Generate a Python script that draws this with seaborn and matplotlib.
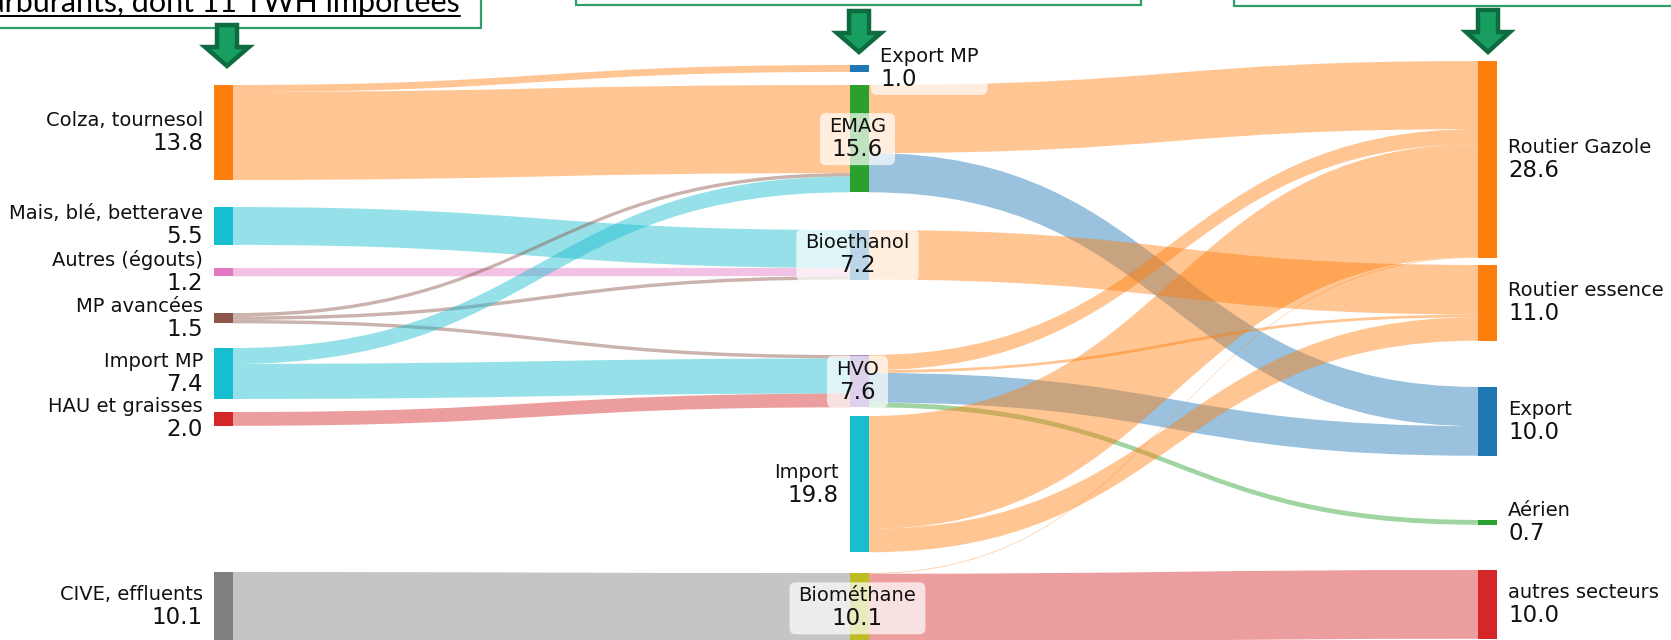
import matplotlib
matplotlib.use("Agg")
import matplotlib.pyplot as plt
from matplotlib.path import Path
from matplotlib.patches import PathPatch, FancyBboxPatch, Polygon, Rectangle
import seaborn as sns
import numpy as np
import pandas as pd

# ---- noeuds (de haut en bas, par colonne) ----
left_nodes = ['Colza, tournesol', 'Mais, blé, betterave', 'Autres (égouts)', 'MP avancées',
              'Import MP', 'HAU et graisses', 'CIVE, effluents']
mid_nodes = ['Export MP', 'EMAG', 'Bioethanol', 'HVO', 'Import', 'Biométhane']
right_nodes = ['Routier Gazole', 'Routier essence', 'Export', 'Aérien', 'autres secteurs']

# ---- flux en TWh ----
link_source = ['Colza, tournesol', 'Colza, tournesol', 'Mais, blé, betterave', 'Autres (égouts)',
               'MP avancées', 'MP avancées', 'MP avancées', 'Import MP', 'Import MP',
               'HAU et graisses', 'CIVE, effluents',
               'EMAG', 'EMAG', 'Bioethanol', 'HVO', 'HVO', 'HVO', 'HVO',
               'Import', 'Import', 'Biométhane', 'Biométhane']
link_target = ['Export MP', 'EMAG', 'Bioethanol', 'Bioethanol',
               'EMAG', 'Bioethanol', 'HVO', 'EMAG', 'HVO',
               'HVO', 'Biométhane',
               'Routier Gazole', 'Export', 'Routier essence', 'Routier Gazole', 'Routier essence',
               'Export', 'Aérien',
               'Routier Gazole', 'Routier essence', 'Routier Gazole', 'autres secteurs']
link_value = [1.0, 12.8, 5.5, 1.2,
              0.5, 0.5, 0.5, 2.3, 5.1,
              2.0, 10.1,
              9.9, 5.7, 7.2, 2.2, 0.4, 4.3, 0.7,
              16.4, 3.4, 0.1, 10.0]

header_text = 'carburants, dont 11 TWH importées'

links = pd.DataFrame({'source': link_source, 'target': link_target, 'value': link_value})

# ---- mise en page (pixels) ----
W, H = 1671, 640
PX = 6.88            # pixels par TWh
NODE_W = 19
col_x = [214, 850, 1478]
col_top = [85, 65, 61]
col_gaps = [[27.1, 23.2, 36.7, 24.7, 13.1, 146.2],
            [13.1, 37.7, 75.5, 8.7, 20.8],
            [7.2, 46.3, 64.2, 45.2]]

sns.set_theme(style='white')
plt.rcParams['font.family'] = ['DejaVu Sans']
pal = sns.color_palette('tab10')
node_color = {
    'Colza, tournesol': pal[1], 'Mais, blé, betterave': pal[9], 'Autres (égouts)': pal[6],
    'MP avancées': pal[5], 'Import MP': pal[9], 'HAU et graisses': pal[3], 'CIVE, effluents': pal[7],
    'Export MP': pal[0], 'EMAG': pal[2], 'Bioethanol': pal[0], 'HVO': pal[4], 'Import': pal[9],
    'Biométhane': pal[8],
    'Routier Gazole': pal[1], 'Routier essence': pal[1], 'Export': pal[0], 'Aérien': pal[2],
    'autres secteurs': pal[3],
}

# valeur des noeuds = max(entrées, sorties)
v_in = links.groupby('target')['value'].sum()
v_out = links.groupby('source')['value'].sum()
columns = [left_nodes, mid_nodes, right_nodes]
node = {}
for c, names in enumerate(columns):
    y = col_top[c]
    for i, n in enumerate(names):
        v = max(v_in.get(n, 0), v_out.get(n, 0))
        node[n] = dict(col=c, x=col_x[c], y=y, h=v * PX, v=v)
        y += v * PX
        if i < len(col_gaps[c]):
            y += col_gaps[c][i]

fig = plt.figure(figsize=(W / 100, H / 100), dpi=100)
ax = fig.add_axes([0, 0, 1, 1])
ax.set_xlim(0, W)
ax.set_ylim(H, 0)
ax.axis('off')

# ---- liens ----
links['ctr_s'] = links['source'].map(lambda n: node[n]['y'] + node[n]['h'] / 2)
links['ctr_t'] = links['target'].map(lambda n: node[n]['y'] + node[n]['h'] / 2)
y_out, y_in = {}, {}
for n in node:
    off = node[n]['y']
    for idx, r in links[links.source == n].sort_values('ctr_t').iterrows():
        y_out[idx] = off
        off += r.value * PX
    off = node[n]['y']
    for idx, r in links[links.target == n].sort_values('ctr_s').iterrows():
        y_in[idx] = off
        off += r.value * PX

for idx, r in links.iterrows():
    s, t = node[r.source], node[r.target]
    x0, x1 = s['x'] + NODE_W, t['x']
    xm = (x0 + x1) / 2
    h = r.value * PX
    a, b = y_out[idx], y_in[idx]
    verts = [(x0, a), (xm, a), (xm, b), (x1, b), (x1, b + h), (xm, b + h), (xm, a + h), (x0, a + h), (x0, a)]
    codes = [Path.MOVETO, Path.CURVE4, Path.CURVE4, Path.CURVE4, Path.LINETO,
             Path.CURVE4, Path.CURVE4, Path.CURVE4, Path.CLOSEPOLY]
    # flux amont : couleur de la source, flux aval : couleur de la cible
    col = node_color[r.source] if s['col'] == 0 else node_color[r.target]
    ax.add_patch(PathPatch(Path(verts, codes), facecolor=col, alpha=0.45, lw=0, zorder=1))

# ---- noeuds ----
for n, d in node.items():
    ax.bar(d['x'] + NODE_W / 2, d['h'], bottom=d['y'], width=NODE_W,
           color=node_color[n], linewidth=0, zorder=2)

# ---- étiquettes ----
mid_place = {'Export MP': 'right', 'EMAG': 'center', 'Bioethanol': 'center', 'HVO': 'center',
             'Import': 'left', 'Biométhane': 'center'}
boxed = []
for n, d in node.items():
    cy = d['y'] + d['h'] / 2
    if d['col'] == 0:
        place = 'left'
    elif d['col'] == 2:
        place = 'right'
    else:
        place = mid_place[n]
    if place == 'left':
        tx, ha = d['x'] - 11, 'right'
    elif place == 'right':
        tx, ha = d['x'] + NODE_W + 11, 'left'
    else:
        tx, ha = d['x'] + NODE_W / 2 - 2, 'center'
    t1 = ax.text(tx, cy - 12, n, ha=ha, va='center', fontsize=14, color='#111111', zorder=5)
    t2 = ax.text(tx, cy + 11, f"{d['v']:.1f}", ha=ha, va='center', fontsize=16.5,
                 color='#111111', zorder=5)
    if d['col'] == 1:
        boxed.append((t1, t2))

fig.canvas.draw()
rend = fig.canvas.get_renderer()
inv = ax.transData.inverted()
for t1, t2 in boxed:
    bb = [inv.transform(t.get_window_extent(rend)) for t in (t1, t2)]
    xs = [p[0] for b in bb for p in b]
    ys = [p[1] for b in bb for p in b]
    x0, x1, y0, y1 = min(xs) - 9, max(xs) + 9, min(ys) - 4, max(ys) + 4
    ax.add_patch(FancyBboxPatch((x0, y0), x1 - x0, y1 - y0,
                                boxstyle='round,pad=0,rounding_size=6',
                                facecolor='white', alpha=0.7, lw=0, zorder=4))

# ---- bandeau du haut : cadres, texte, flèches ----
BOX_GREEN = '#2f9e66'
ax.add_patch(Rectangle((-10, -60), 491, 88, fill=False, edgecolor=BOX_GREEN, lw=1.6, zorder=6))
ax.add_patch(Rectangle((576, -60), 565, 65, fill=False, edgecolor=BOX_GREEN, lw=1.6, zorder=6))
ax.add_patch(Rectangle((1234, -60), 500, 66, fill=False, edgecolor=BOX_GREEN, lw=1.6, zorder=6))

ht = ax.text(460, 12, header_text, ha='right', va='baseline', fontsize=22,
             family=['Lato', 'DejaVu Sans'], color='black', zorder=6)
fig.canvas.draw()
hb = inv.transform(ht.get_window_extent(fig.canvas.get_renderer()))
ax.plot([hb[0][0], hb[1][0]], [15.5, 15.5], color='black', lw=1.4, zorder=6)


def down_arrow(cx, ytop, ytip):
    sw, hw, yh = 10, 22, ytop + 22
    pts = [(cx - sw, ytop), (cx + sw, ytop), (cx + sw, yh), (cx + hw, yh), (cx, ytip),
           (cx - hw, yh), (cx - sw, yh)]
    ax.add_patch(Polygon(pts, closed=True, facecolor='#189e60', edgecolor='#0e6b40',
                         lw=3.2, joinstyle='miter', zorder=7))


down_arrow(227, 25, 66)
down_arrow(859, 11, 52)
down_arrow(1488, 10, 52)

plt.savefig('out.png', dpi=100)
